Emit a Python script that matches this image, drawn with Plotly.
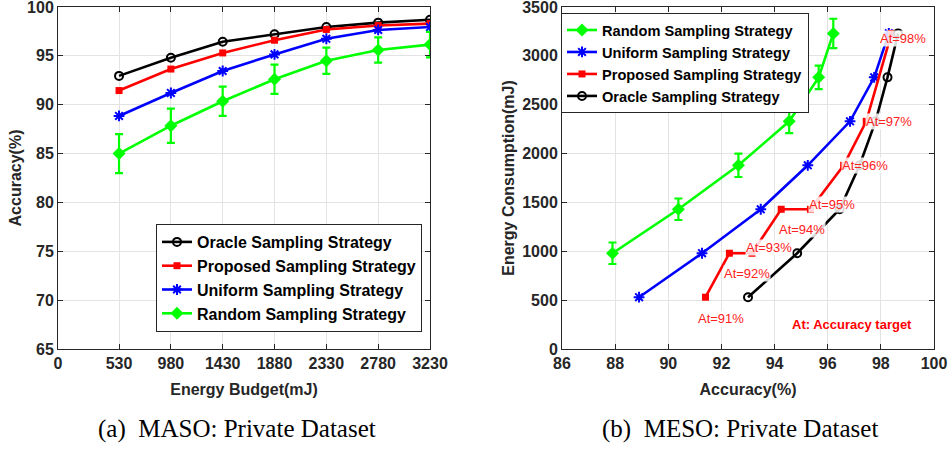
import plotly.graph_objects as go

# ---------------- data ----------------
budgets = [530, 980, 1430, 1880, 2330, 2780, 3230]
budget_ticks = [0, 530, 980, 1430, 1880, 2330, 2780, 3230]
acc_ticks = [65, 70, 75, 80, 85, 90, 95, 100]
meso_acc_ticks = [86, 88, 90, 92, 94, 96, 98, 100]
energy_ticks = [0, 500, 1000, 1500, 2000, 2500, 3000, 3500]

# (a) accuracy vs energy budget
acc_oracle = [92.95, 94.8, 96.45, 97.2, 97.95, 98.4, 98.7]
acc_proposed = [91.45, 93.65, 95.3, 96.6, 97.7, 98.1, 98.3]
acc_uniform = [88.85, 91.2, 93.45, 95.15, 96.75, 97.65, 97.95]
acc_random = [85.0, 87.85, 90.35, 92.6, 94.5, 95.6, 96.15]
acc_random_err = [2.0, 1.75, 1.5, 1.5, 1.35, 1.3, 1.3]

# (b) energy consumption vs accuracy
meso_oracle_acc = [93.0, 94.85, 96.45, 97.2, 97.8, 98.25, 98.65]
meso_oracle_energy = [530, 980, 1430, 1880, 2330, 2780, 3230]
meso_uniform_acc = [88.9, 91.27, 93.48, 95.25, 96.84, 97.75, 98.3]
meso_uniform_energy = [530, 980, 1430, 1880, 2330, 2780, 3230]
meso_random_acc = [87.9, 90.38, 92.64, 94.55, 95.66, 96.21]
meso_random_energy = [980, 1430, 1880, 2330, 2780, 3230]
meso_random_err = [110, 110, 120, 120, 120, 150]
meso_proposed_acc = [91.4, 92.3, 93.15, 94.25, 95.35, 96.6, 97.45, 98.4]
meso_proposed_energy = [530, 980, 980, 1430, 1430, 1880, 2330, 3230]
accuracy_targets = ["At=91%", "At=92%", "At=93%", "At=94%", "At=95%", "At=96%", "At=97%", "At=98%"]
# pixel offsets of each target label from its point (style)
target_label_shift = [(16, -21), (18, -20), (17, 6), (21, -20), (22, 5), (21, 0), (23, 0), (12, -5)]

# ---------------- style ----------------
FONT = "Liberation Sans, Arial, sans-serif"
SERIF = "Liberation Serif, Times New Roman, serif"
TXT = "#262626"
LW = 2.6
BLACK, RED, BLUE, GREEN = "#000000", "#FF0000", "#0000FF", "#00FF00"

fig = go.Figure()

def add(x, y, name, color, symbol, size, xa, ya, legend, err=None):
    kw = {}
    if err is not None:
        kw["error_y"] = dict(type="data", array=err, visible=True, color=color, thickness=2.2, width=4)
    mline = dict(color=color, width=2 if "open" in symbol else 0)
    fig.add_trace(go.Scatter(
        x=x, y=y, name=name, mode="lines+markers",
        line=dict(color=color, width=LW),
        marker=dict(symbol=symbol, size=size, color=color, line=mline),
        xaxis=xa, yaxis=ya, legend=legend, **kw))

# left panel
add(budgets, acc_oracle, "Oracle Sampling Strategy", BLACK, "circle-open", 8, "x", "y", "legend")
add(budgets, acc_proposed, "Proposed Sampling Strategy", RED, "square", 7, "x", "y", "legend")
add(budgets, acc_uniform, "Uniform Sampling Strategy", BLUE, "asterisk-open", 9, "x", "y", "legend")
add(budgets, acc_random, "Random Sampling Strategy", GREEN, "diamond", 10, "x", "y", "legend", err=acc_random_err)

# right panel
add(meso_random_acc, meso_random_energy, "Random Sampling Strategy", GREEN, "diamond", 10, "x2", "y2", "legend2", err=meso_random_err)
add(meso_uniform_acc, meso_uniform_energy, "Uniform Sampling Strategy", BLUE, "asterisk-open", 9, "x2", "y2", "legend2")
add(meso_proposed_acc, meso_proposed_energy, "Proposed Sampling Strategy", RED, "square", 7, "x2", "y2", "legend2")
add(meso_oracle_acc, meso_oracle_energy, "Oracle Sampling Strategy", BLACK, "circle-open", 8, "x2", "y2", "legend2")

W, H = 950, 450
def px2dom(a, b, total):
    return [a / total, b / total]

axis_common = dict(
    automargin=False, ticklabeloverflow="allow",
    showline=True, linecolor=TXT, linewidth=1, mirror="ticks",
    ticks="inside", ticklen=5, tickcolor=TXT,
    showgrid=True, gridcolor="#E3E3E3", gridwidth=1, zeroline=False,
    tickfont=dict(family=FONT, size=16, color=TXT, weight="bold"),
    title_font=dict(family=FONT, size=16, color=TXT, weight="bold"),
)

fig.update_layout(
    width=W, height=H,
    margin=dict(l=0, r=0, t=0, b=0, autoexpand=False),
    paper_bgcolor="white", plot_bgcolor="white",
    font=dict(family=FONT, color=TXT),
    xaxis=dict(domain=px2dom(58, 430, W), range=[0, 3230], tickvals=budget_ticks,
               title=dict(text="Energy Budget(mJ)", standoff=12), anchor="y", **axis_common),
    yaxis=dict(domain=[(H - 349) / H, (H - 7) / H], range=[65, 100], tickvals=acc_ticks,
               title=dict(text="Accuracy(%)", standoff=1), anchor="x", **axis_common),
    xaxis2=dict(domain=px2dom(562, 934, W), range=[86, 100], tickvals=meso_acc_ticks,
                title=dict(text="Accuracy(%)", standoff=12), anchor="y2", **axis_common),
    yaxis2=dict(domain=[(H - 349) / H, (H - 7) / H], range=[0, 3500], tickvals=energy_ticks,
                title=dict(text="Energy Consumption(mJ)", standoff=3), anchor="x2", **axis_common),
    legend=dict(x=156 / W, y=(H - 224) / H, xanchor="left", yanchor="top",
                bgcolor="white", bordercolor=TXT, borderwidth=1,
                font=dict(family=FONT, size=16, color="#000000", weight="bold"),
                itemwidth=30, tracegroupgap=0),
    legend2=dict(x=561 / W, y=(H - 13) / H, xanchor="left", yanchor="top",
                 bgcolor="white", bordercolor=TXT, borderwidth=1,
                 font=dict(family=FONT, size=14.6, color="#000000", weight="bold"),
                 itemwidth=30, tracegroupgap=0),
    showlegend=True,
)

annotations = []
for xa, ya, txt, (dx, dy) in zip(meso_proposed_acc, meso_proposed_energy, accuracy_targets, target_label_shift):
    annotations.append(dict(x=xa, y=ya, xref="x2", yref="y2", text=txt, showarrow=False,
                            xanchor="center", yanchor="middle",
                            xshift=dx, yshift=dy, bgcolor="rgba(255,255,255,0.85)", borderpad=0,
                            font=dict(family=FONT, size=13, color="#FF2020")))
annotations.append(dict(x=852 / W, y=(H - 324) / H, xref="paper", yref="paper",
                        xanchor="center", yanchor="middle",
                        text="At: Accuracy target", showarrow=False,
                        font=dict(family=FONT, size=13, color="#FF0000", weight="bold")))
annotations.append(dict(x=237 / W, y=(H - 429) / H, xref="paper", yref="paper",
                        xanchor="center", yanchor="middle",
                        text="(a)  MASO: Private Dataset", showarrow=False,
                        font=dict(family=SERIF, size=25, color="#000000")))
annotations.append(dict(x=740 / W, y=(H - 429) / H, xref="paper", yref="paper",
                        xanchor="center", yanchor="middle",
                        text="(b)  MESO: Private Dataset", showarrow=False,
                        font=dict(family=SERIF, size=25, color="#000000")))
fig.update_layout(annotations=annotations)

fig.write_html("out.html")
